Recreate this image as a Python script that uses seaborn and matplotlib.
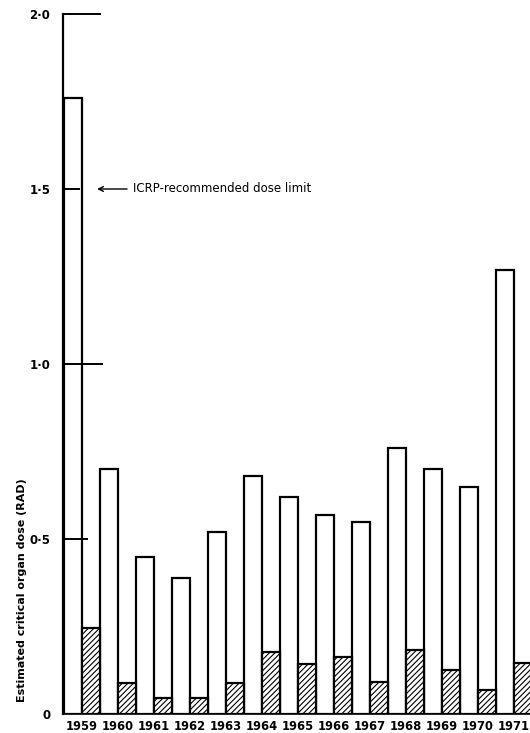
import matplotlib
matplotlib.use("Agg")
import matplotlib.pyplot as plt
import seaborn as sns
import pandas as pd

years = ["1959", "1960", "1961", "1962", "1963", "1964", "1965",
         "1966", "1967", "1968", "1969", "1970", "1971"]
dose_open = [1.76, 0.70, 0.45, 0.39, 0.52, 0.68, 0.62,
             0.57, 0.55, 0.76, 0.70, 0.65, 1.27]
dose_hatched = [0.245, 0.09, 0.046, 0.046, 0.09, 0.177, 0.143,
                0.163, 0.091, 0.183, 0.126, 0.069, 0.146]
ytick_values = [0, 0.5, 1.0, 1.5, 2.0]
ytick_labels = ["0", "0·5", "1·0", "1·5", "2·0"]
series_names = ["open", "hatched"]
limit_value = 1.5
limit_text = "ICRP-recommended dose limit"
ylabel_text = "Estimated critical organ dose (RAD)"

df = pd.DataFrame({
    "year": years * 2,
    "dose": dose_open + dose_hatched,
    "series": [series_names[0]] * len(years) + [series_names[1]] * len(years),
})

sns.set_style("white")
plt.rcParams["font.family"] = ["DejaVu Sans"]
plt.rcParams["hatch.linewidth"] = 0.8
plt.rcParams["text.color"] = "black"
plt.rcParams["xtick.color"] = "black"
plt.rcParams["ytick.color"] = "black"
plt.rcParams["axes.labelcolor"] = "black"

fig = plt.figure(figsize=(5.3, 7.33), dpi=100)
ax = fig.add_axes([63 / 530, 19 / 733, 467 / 530, 700 / 733])

sns.barplot(data=df, x="year", y="dose", hue="series", order=years,
            hue_order=series_names, palette=["white", "white"],
            width=1.0, gap=0, edgecolor="black", linewidth=1.6,
            legend=False, ax=ax, errorbar=None)

for bar in ax.containers[1]:
    bar.set_hatch("//////")

ax.set_axisbelow(False)
ax.set_ylim(0, 2.0)
ax.set_xlim(-0.528, 12.45)
ax.set_yticks(ytick_values)
ax.set_yticklabels(ytick_labels, fontsize=8.5, fontweight="bold")
ax.tick_params(axis="y", direction="in", width=1.4, pad=9, left=True)
tick_lengths = [0, 18, 29, 12, 27]
for t, L in zip(ax.yaxis.get_major_ticks(), tick_lengths):
    t.tick1line.set_markersize(L)
ax.tick_params(axis="x", length=0, pad=4)
for lab in ax.get_xticklabels():
    lab.set_fontsize(8.3)
    lab.set_fontweight("bold")

ax.set_xlabel("")
ax.set_ylabel(ylabel_text, fontsize=8, fontweight="bold")
ax.yaxis.set_label_coords(-0.078, 0.177)

for s in ["top", "right"]:
    ax.spines[s].set_visible(False)
ax.spines["left"].set_linewidth(1.6)
ax.spines["bottom"].set_linewidth(1.2)
ax.spines["left"].set_color("black")
ax.spines["bottom"].set_color("black")

ax.annotate(limit_text, xy=(0.42, limit_value), xytext=(1.42, limit_value),
            fontsize=8.5, va="center", ha="left",
            arrowprops=dict(arrowstyle="->", lw=1.0, color="black",
                            shrinkA=2, shrinkB=0))

fig.savefig("out.png", dpi=100)
